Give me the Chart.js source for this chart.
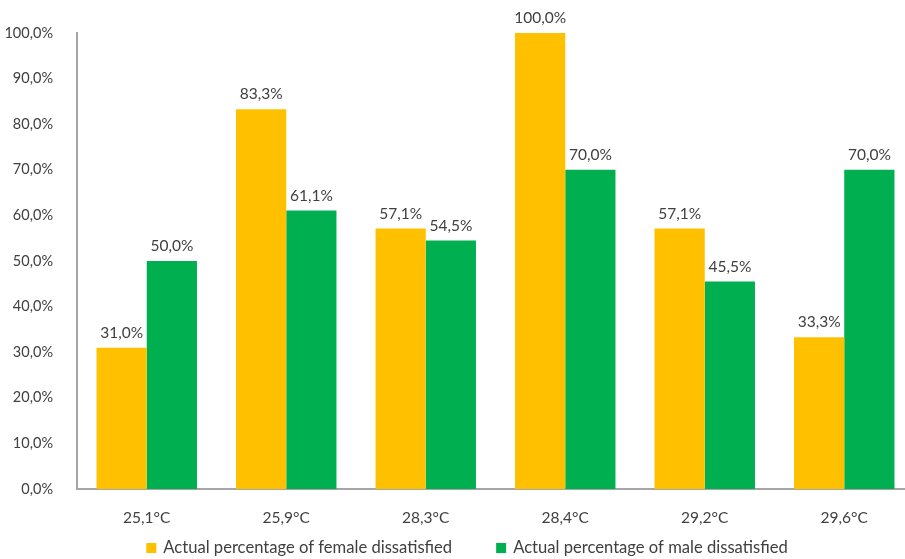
<!DOCTYPE html>
<html>
<head>
<meta charset="utf-8">
<script src="https://cdn.jsdelivr.net/npm/chart.js@4"></script>
<style>
  html, body { margin: 0; padding: 0; background: #fff; overflow: hidden; }
  #wrap { width: 914px; height: 559px; }
</style>
</head>
<body>
<div id="wrap"><canvas id="dissatChart"></canvas></div>
<script>
const categories = ['25,1°C', '25,9°C', '28,3°C', '28,4°C', '29,2°C', '29,6°C'];
const femaleValues = [31.0, 83.3, 57.1, 100.0, 57.1, 33.3];
const maleValues = [50.0, 61.1, 54.5, 70.0, 45.5, 70.0];
const yTicks = [0, 10, 20, 30, 40, 50, 60, 70, 80, 90, 100];

const fmt = v => v.toFixed(1).replace('.', ',') + '%';
const FONT = 'Lato, "Open Sans", sans-serif';
const TEXT = '#404040';

// draws the value over each bar
const barLabels = {
    id: 'barLabels',
    afterDatasetsDraw(chart) {
        const ctx = chart.ctx;
        ctx.save();
        ctx.font = '15.5px ' + FONT;
        ctx.fillStyle = TEXT;
        ctx.textAlign = 'center';
        ctx.textBaseline = 'bottom';
        chart.data.datasets.forEach((ds, i) => {
            chart.getDatasetMeta(i).data.forEach((bar, j) => {
                ctx.fillText(fmt(ds.data[j]), bar.x, bar.y - 7);
            });
        });
        ctx.restore();
    }
};

// excel-style legend under the axis labels, wider gap than the built-in one
const bottomLegend = {
    id: 'bottomLegend',
    afterDraw(chart) {
        const ctx = chart.ctx;
        const box = 10, gap = 44, textGap = 7;
        ctx.save();
        ctx.font = '16.6px ' + FONT;
        ctx.textBaseline = 'middle';
        ctx.textAlign = 'left';
        const items = chart.data.datasets.map(ds => ({
            text: ds.label, color: ds.backgroundColor,
            w: box + textGap + ctx.measureText(ds.label).width
        }));
        const total = items.reduce((s, it) => s + it.w, 0) + gap * (items.length - 1);
        let x = chart.width / 2 + 10 - total / 2;
        const y = chart.height - 11;
        items.forEach(it => {
            ctx.fillStyle = it.color;
            ctx.fillRect(x, y - box / 2, box, box);
            ctx.fillStyle = TEXT;
            ctx.fillText(it.text, x + box + textGap, y);
            x += it.w + gap;
        });
        ctx.restore();
    }
};

new Chart(document.getElementById('dissatChart').getContext('2d'), {
    type: 'bar',
    data: {
        labels: categories,
        datasets: [{
            label: 'Actual percentage of female dissatisfied',
            data: femaleValues,
            backgroundColor: '#FFC000',
            categoryPercentage: 0.72,
            barPercentage: 1.0
        }, {
            label: 'Actual percentage of male dissatisfied',
            data: maleValues,
            backgroundColor: '#00B050',
            categoryPercentage: 0.72,
            barPercentage: 1.0
        }]
    },
    options: {
        responsive: true,
        maintainAspectRatio: false,
        animation: false,
        layout: { padding: { top: 33, left: 0, right: 0, bottom: 30 } },
        plugins: {
            tooltip: { enabled: false },
            legend: { display: false }
        },
        scales: {
            x: {
                grid: { display: false },
                border: { display: true, color: '#A6A6A6', width: 2 },
                ticks: { font: { family: FONT, size: 15.5 }, color: TEXT, padding: 12 },
                afterFit: s => { s.height = 40; }
            },
            y: {
                min: 0,
                max: 100,
                afterBuildTicks: s => { s.ticks = yTicks.map(v => ({ value: v })); },
                grid: { display: false },
                border: { display: true, color: '#A6A6A6', width: 2 },
                ticks: {
                    font: { family: FONT, size: 14.5 },
                    color: TEXT,
                    padding: 16,
                    callback: v => fmt(v)
                },
                afterFit: s => { s.width = 77; }
            }
        }
    },
    plugins: [barLabels, bottomLegend]
});
</script>
</body>
</html>
